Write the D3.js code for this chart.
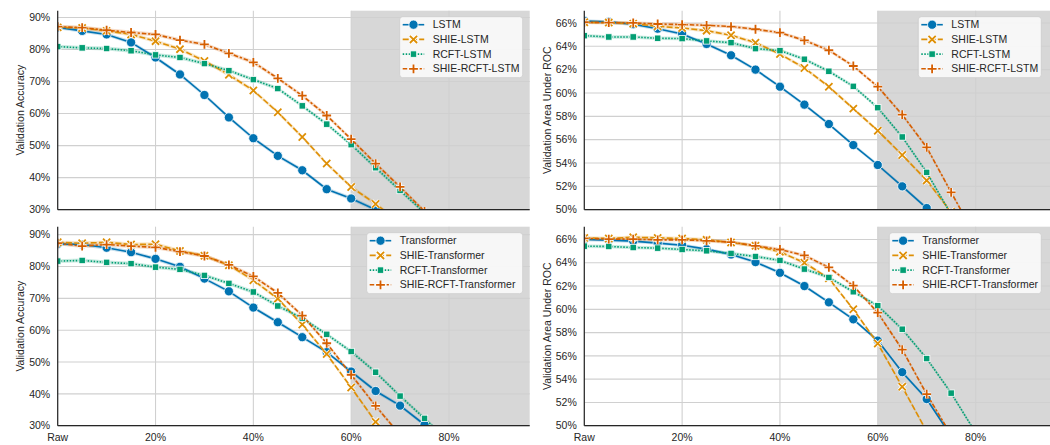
<!DOCTYPE html>
<html>
<head>
<meta charset="utf-8">
<script src="https://cdn.jsdelivr.net/npm/d3@7"></script>
<style>
  body { margin: 0; background: #fff; }
  svg text { font-family: "Liberation Sans", Arial, sans-serif; fill: #262626; }
</style>
</head>
<body>
<div id="container"></div>
<script>
/* CONSTANTS AND GLOBALS */
const width = 1050, height = 445;

// corruption levels (x), shared by all panels
const xs = [0, 5, 10, 15, 20, 25, 30, 35, 40, 45, 50, 55, 60, 65, 70, 75, 80];
const xTicks = [0, 20, 40, 60, 80];
const xTickLabels = ["Raw", "20%", "40%", "60%", "80%"];

// accuracy, LSTM family
const accLSTM      = [86.9, 85.8, 84.7, 82.2, 77.5, 72.2, 65.8, 58.8, 52.3, 46.8, 42.3, 36.4, 33.5, 30.0, 26.0, 22.0];
const accSHIELSTM  = [86.9, 86.7, 85.8, 84.7, 82.6, 80.1, 76.4, 72.1, 67.2, 60.4, 52.7, 44.4, 37.1, 31.8, 26.0];
const accRCFTLSTM  = [80.9, 80.5, 80.3, 79.6, 78.3, 77.5, 75.6, 73.4, 70.6, 67.8, 62.4, 56.7, 50.3, 43.1, 36.0, 29.0, 22.0];
const accSRLSTM    = [87.1, 86.8, 86.0, 85.3, 84.7, 82.9, 81.6, 78.8, 76.0, 71.0, 65.6, 59.4, 52.0, 44.4, 37.1, 29.5, 22.0];

// AUC, LSTM family
const aucLSTM      = [66.17, 66.09, 65.89, 65.51, 65.06, 64.20, 63.23, 62.00, 60.54, 59.00, 57.34, 55.54, 53.83, 52.00, 50.14, 48.0];
const aucSHIELSTM  = [66.06, 66.03, 65.94, 65.71, 65.57, 65.34, 64.94, 64.31, 63.34, 62.14, 60.54, 58.66, 56.77, 54.69, 52.51, 49.8, 47.0];
const aucRCFTLSTM  = [64.91, 64.80, 64.80, 64.69, 64.66, 64.46, 64.31, 63.80, 63.63, 62.89, 61.86, 60.57, 58.74, 56.23, 53.20, 49.6, 46.0];
const aucSRLSTM    = [66.06, 66.03, 66.00, 65.91, 65.86, 65.80, 65.69, 65.46, 65.17, 64.51, 63.66, 62.31, 60.54, 58.14, 55.34, 51.49, 47.7];

// accuracy, Transformer family
const accTrans     = [87.1, 86.9, 85.9, 84.5, 82.4, 79.9, 76.2, 72.2, 67.1, 62.5, 57.8, 53.1, 47.0, 40.9, 36.3, 30.3, 24.0];
const accSHIETrans = [87.6, 87.3, 87.6, 86.9, 87.0, 84.9, 83.4, 80.4, 75.7, 69.9, 61.8, 52.5, 42.0, 31.2, 21.0];
const accRCFTTrans = [81.7, 81.9, 81.3, 80.9, 79.8, 79.1, 77.2, 74.7, 72.0, 67.6, 63.8, 58.7, 53.3, 46.8, 39.3, 32.3, 25.0];
const accSRTrans   = [87.3, 86.4, 86.9, 86.4, 86.0, 84.7, 83.3, 80.5, 76.9, 71.7, 64.6, 55.9, 46.0, 36.2, 27.1];

// AUC, Transformer family
const aucTrans     = [66.00, 65.94, 65.86, 65.69, 65.51, 65.17, 64.71, 64.06, 63.14, 62.00, 60.60, 59.14, 57.31, 54.60, 52.29, 49.1];
const aucSHIETrans = [66.14, 66.09, 66.20, 66.14, 66.09, 65.97, 65.74, 65.46, 64.94, 64.00, 62.66, 60.00, 57.06, 53.34, 49.5];
const aucRCFTTrans = [65.43, 65.40, 65.31, 65.26, 65.14, 65.03, 64.80, 64.54, 64.20, 63.46, 62.74, 61.51, 60.31, 58.29, 55.77, 52.80, 49.4];
const aucSRTrans   = [66.09, 66.03, 66.03, 65.97, 65.97, 65.89, 65.77, 65.46, 65.14, 64.63, 63.60, 62.03, 59.71, 56.54, 52.71, 49.2];

const accTicks = [30, 40, 50, 60, 70, 80, 90];
const aucTicks = [50, 52, 54, 56, 58, 60, 62, 64, 66];

const colors = ["#0173b2", "#de8f05", "#029e73", "#d55e00"];
const dashes = ["none", "6,2.25", "1.5,1.5", "4.5,1.9,2.25,1.9"];
const markers = ["circle", "x", "square", "plus"];

// panel layout
const panels = [
  {x0: 57.7, y0: 10.7, label: "Validation Accuracy", dom: [30, 92.1], ticks: accTicks, showX: false,
   names: ["LSTM", "SHIE-LSTM", "RCFT-LSTM", "SHIE-RCFT-LSTM"], series: [accLSTM, accSHIELSTM, accRCFTLSTM, accSRLSTM], ci: 0.6, legW: 123},
  {x0: 584.3, y0: 10.7, label: "Validation Area Under ROC", dom: [50, 67.05], ticks: aucTicks, showX: false,
   names: ["LSTM", "SHIE-LSTM", "RCFT-LSTM", "SHIE-RCFT-LSTM"], series: [aucLSTM, aucSHIELSTM, aucRCFTLSTM, aucSRLSTM], ci: 0.15, legW: 123},
  {x0: 57.7, y0: 226.7, label: "Validation Accuracy", dom: [30, 92.5], ticks: accTicks, showX: true,
   names: ["Transformer", "SHIE-Transformer", "RCFT-Transformer", "SHIE-RCFT-Transformer"], series: [accTrans, accSHIETrans, accRCFTTrans, accSRTrans], ci: 0.6, legW: 156},
  {x0: 584.3, y0: 226.7, label: "Validation Area Under ROC", dom: [50, 67.1], ticks: aucTicks, showX: true,
   names: ["Transformer", "SHIE-Transformer", "RCFT-Transformer", "SHIE-RCFT-Transformer"], series: [aucTrans, aucSHIETrans, aucRCFTTrans, aucSRTrans], ci: 0.15, legW: 152}
];
const pw = 472, ph = 199;

const svg = d3.select("#container").append("svg")
  .attr("width", width).attr("height", height);

function drawMarker(g, type, color, cx, cy) {
  if (type === "circle") {
    g.append("circle").attr("cx", cx).attr("cy", cy).attr("r", 4.6)
      .attr("fill", color).attr("stroke", "#fff").attr("stroke-width", 0.8);
  } else if (type === "square") {
    g.append("rect").attr("x", cx - 3.2).attr("y", cy - 3.2).attr("width", 6.4).attr("height", 6.4)
      .attr("fill", color).attr("stroke", "#fff").attr("stroke-width", 0.8);
  } else {
    const s = type === "x" ? 3.6 : 4.4;
    const p = type === "x"
      ? `M${cx - s},${cy - s}L${cx + s},${cy + s}M${cx - s},${cy + s}L${cx + s},${cy - s}`
      : `M${cx - s},${cy}L${cx + s},${cy}M${cx},${cy - s}L${cx},${cy + s}`;
    g.append("path").attr("d", p).attr("stroke", "#fff").attr("stroke-width", 3.4).attr("fill", "none");
    g.append("path").attr("d", p).attr("stroke", color).attr("stroke-width", 1.8).attr("fill", "none");
  }
}

panels.forEach((P, pi) => {
  const x = d3.scaleLinear().domain([0, 96.5]).range([P.x0, P.x0 + pw]);
  const y = d3.scaleLinear().domain(P.dom).range([P.y0 + ph, P.y0]);
  const g = svg.append("g");

  g.append("clipPath").attr("id", "clip" + pi).append("rect")
    .attr("x", P.x0).attr("y", P.y0).attr("width", pw).attr("height", ph);

  // shaded region beyond 60%
  g.append("rect").attr("x", x(60)).attr("y", P.y0).attr("width", x(96.5) - x(60)).attr("height", ph)
    .attr("fill", "#d7d7d7");

  // grid
  g.selectAll("line.hg").data(P.ticks).join("line")
    .attr("x1", P.x0).attr("x2", P.x0 + pw).attr("y1", d => y(d)).attr("y2", d => y(d))
    .attr("stroke", "#d0d0d0").attr("stroke-width", 1.1);
  g.selectAll("line.vg").data(xTicks.slice(1)).join("line")
    .attr("x1", d => x(d)).attr("x2", d => x(d)).attr("y1", P.y0).attr("y2", P.y0 + ph)
    .attr("stroke", "#d0d0d0").attr("stroke-width", 1.1);

  // series
  const plot = g.append("g").attr("clip-path", `url(#clip${pi})`);
  P.series.forEach((vals, si) => {
    const pts = vals.map((v, i) => [xs[i], v]);
    plot.append("path").datum(pts)
      .attr("d", d3.area().x(d => x(d[0])).y0(d => y(d[1] - P.ci)).y1(d => y(d[1] + P.ci)))
      .attr("fill", colors[si]).attr("opacity", 0.22);
  });
  P.series.forEach((vals, si) => {
    const pts = vals.map((v, i) => [xs[i], v]);
    plot.append("path").datum(pts)
      .attr("d", d3.line().x(d => x(d[0])).y(d => y(d[1])))
      .attr("fill", "none").attr("stroke", colors[si]).attr("stroke-width", 1.6)
      .attr("stroke-dasharray", dashes[si]);
    const mg = plot.append("g");
    pts.forEach(d => drawMarker(mg, markers[si], colors[si], x(d[0]), y(d[1])));
  });

  // spines
  g.append("line").attr("x1", P.x0).attr("x2", P.x0).attr("y1", P.y0).attr("y2", P.y0 + ph)
    .attr("stroke", "#262626").attr("stroke-width", 1.25);
  g.append("line").attr("x1", P.x0).attr("x2", P.x0 + pw).attr("y1", P.y0 + ph).attr("y2", P.y0 + ph)
    .attr("stroke", "#262626").attr("stroke-width", 1.25);

  // y tick labels
  g.selectAll("text.yt").data(P.ticks).join("text")
    .attr("x", P.x0 - 7.5).attr("y", d => y(d)).attr("dy", "0.35em")
    .attr("text-anchor", "end").attr("font-size", 10.5)
    .text(d => d + "%");

  if (P.showX) {
    g.selectAll("text.xt").data(xTicks).join("text")
      .attr("x", d => x(d)).attr("y", P.y0 + ph + 11.5).attr("dy", "0.35em")
      .attr("text-anchor", "middle").attr("font-size", 10.5)
      .text((d, i) => xTickLabels[i]);
  }

  // y label
  g.append("text")
    .attr("transform", `translate(${P.x0 - 37},${P.y0 + ph / 2}) rotate(-90)`)
    .attr("text-anchor", "middle").attr("dy", "0.35em").attr("font-size", 10.5)
    .text(P.label);

  // legend
  const lx = P.x0 + pw - 7 - P.legW - (pi % 2 ? 8 : 0), ly = P.y0 + 6;
  const leg = g.append("g");
  leg.append("rect").attr("x", lx).attr("y", ly).attr("width", P.legW).attr("height", 61)
    .attr("rx", 3).attr("fill", "#fff").attr("fill-opacity", 0.8)
    .attr("stroke", "#cccccc").attr("stroke-width", 0.8);
  P.names.forEach((n, si) => {
    const ry = ly + 8 + si * 14.7;
    leg.append("line").attr("x1", lx + 3).attr("x2", lx + 24.5).attr("y1", ry).attr("y2", ry)
      .attr("stroke", colors[si]).attr("stroke-width", 1.6).attr("stroke-dasharray", dashes[si]);
    drawMarker(leg, markers[si], colors[si], lx + 13.8, ry);
    leg.append("text").attr("x", lx + 33).attr("y", ry).attr("dy", "0.35em")
      .attr("font-size", 10.5).text(n);
  });
});
</script>
</body>
</html>
